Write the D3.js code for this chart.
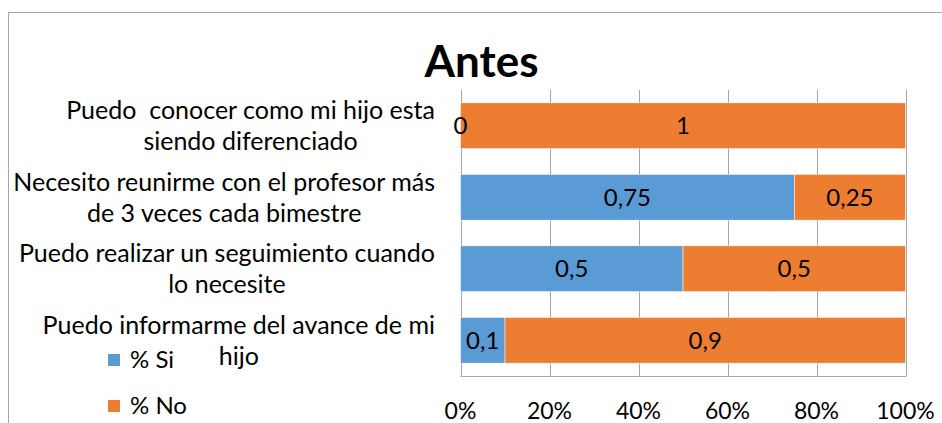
<!DOCTYPE html>
<html lang="es">
<head>
    <meta charset="UTF-8">
    <title>Antes</title>
    <script src="https://d3js.org/d3.v7.min.js"></script>
    <style>
        body {
            margin: 0;
            background: #fff;
            font-family: 'Lato', sans-serif;
        }
        svg { display: block; }
        .grid line { stroke: #a6a6a6; stroke-width: 1px; }
        .cat { font-size: 25px; fill: #000; white-space: pre; }
        .lbl { font-size: 24px; fill: #000; }
        .tick-lbl { font-size: 23px; fill: #000; }
        .legend text { font-size: 24px; fill: #000; }
    </style>
</head>
<body>
<div id="chart"></div>
<script>
    // data
    const categories = [
        ["Puedo  conocer como mi hijo esta", "siendo diferenciado"],
        ["Necesito reunirme con el profesor más", "de 3 veces cada bimestre"],
        ["Puedo realizar un seguimiento cuando", "lo necesite"],
        ["Puedo informarme del avance de mi", "hijo"]
    ];
    const si = [0, 0.75, 0.5, 0.1];
    const no = [1, 0.25, 0.5, 0.9];
    const seriesNames = ["% Si", "% No"];
    const colors = ["#5b9bd5", "#ed7d31"];
    const ticks = [0, 0.2, 0.4, 0.6, 0.8, 1];

    const W = 942, H = 423;
    const plot = { left: 460.5, right: 905.5, top: 90, bottom: 376 };

    const svg = d3.select("#chart").append("svg")
        .attr("width", W)
        .attr("height", H);

    // outer chart border (cropped on right / bottom)
    svg.append("rect")
        .attr("x", 8.5).attr("y", 12.5)
        .attr("width", W + 20).attr("height", H + 20)
        .attr("fill", "none")
        .attr("stroke", "#a6a6a6");

    svg.append("text")
        .attr("x", 481.5).attr("y", 77)
        .attr("text-anchor", "middle")
        .style("font-size", "44px")
        .style("font-weight", "bold")
        .text("Antes");

    const x = d3.scaleLinear().domain([0, 1]).range([plot.left, plot.right]);
    const y = d3.scaleBand()
        .domain(d3.range(categories.length))
        .range([plot.top, plot.bottom])
        .paddingInner(0.36)
        .paddingOuter(0.18);

    // gridlines
    const grid = svg.append("g").attr("class", "grid");
    grid.selectAll("line.v")
        .data(ticks)
        .enter().append("line")
        .attr("x1", d => Math.round(x(d)) + 0.5)
        .attr("x2", d => Math.round(x(d)) + 0.5)
        .attr("y1", plot.top)
        .attr("y2", plot.bottom);
    grid.append("line")
        .attr("x1", plot.left).attr("x2", plot.right + 1)
        .attr("y1", plot.bottom + 0.5).attr("y2", plot.bottom + 0.5);

    // stacked bars
    const stacked = categories.map((c, i) => [
        { i, s: 0, x0: 0, x1: si[i], v: si[i] },
        { i, s: 1, x0: si[i], x1: si[i] + no[i], v: no[i] }
    ]).flat();

    svg.selectAll("rect.bar")
        .data(stacked)
        .enter().append("rect")
        .attr("class", "bar")
        .attr("x", d => x(d.x0))
        .attr("y", d => y(d.i))
        .attr("width", d => x(d.x1) - x(d.x0))
        .attr("height", y.bandwidth())
        .attr("fill", d => colors[d.s])
        .attr("stroke", "#fff")
        .attr("stroke-width", 0.5);

    svg.selectAll("text.lbl")
        .data(stacked)
        .enter().append("text")
        .attr("class", "lbl")
        .attr("x", d => (x(d.x0) + x(d.x1)) / 2)
        .attr("y", d => y(d.i) + y.bandwidth() / 2)
        .attr("dy", "0.35em")
        .attr("text-anchor", "middle")
        .text(d => String(d.v).replace(".", ","));

    // x tick labels
    svg.selectAll("text.tick-lbl")
        .data(ticks)
        .enter().append("text")
        .attr("class", "tick-lbl")
        .attr("x", d => x(d))
        .attr("y", 411)
        .attr("dy", "0.35em")
        .attr("text-anchor", "middle")
        .text(d3.format(".0%"));

    // category labels: block right aligned to axis, lines centered in block
    const lineH = 31;
    categories.forEach((lines, i) => {
        const g = svg.append("g");
        const cy = y(i) + y.bandwidth() / 2;
        const ts = lines.map((t, k) => g.append("text")
            .attr("class", "cat")
            .attr("text-anchor", "middle")
            .attr("y", cy + (k - (lines.length - 1) / 2) * lineH)
            .attr("dy", "0.35em")
            .text(t));
        const maxW = d3.max(ts, t => t.node().getComputedTextLength());
        ts.forEach(t => t.attr("x", 435 - maxW / 2));
    });

    // legend
    const legend = svg.append("g").attr("class", "legend");
    const legY = [360, 406];
    seriesNames.forEach((n, k) => {
        legend.append("rect")
            .attr("x", 108).attr("y", legY[k] - 6)
            .attr("width", 12).attr("height", 12)
            .attr("fill", colors[k]);
        legend.append("text")
            .attr("x", 130).attr("y", legY[k])
            .attr("dy", "0.35em")
            .text(n);
    });
</script>
</body>
</html>
